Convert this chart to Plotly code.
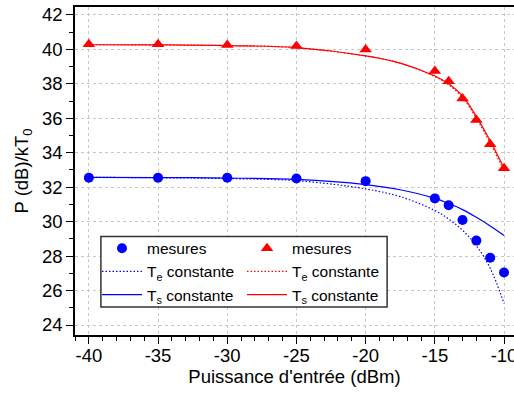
import plotly.graph_objects as go

# measured points
x_meas = [-40, -35, -30, -25, -20, -15, -14, -13, -12, -11, -10]
blue_meas = [32.55, 32.55, 32.55, 32.5, 32.35, 31.35, 30.95, 30.1, 28.9, 27.9, 27.05]
red_meas = [40.3, 40.3, 40.25, 40.2, 40.0, 38.75, 38.15, 37.15, 35.9, 34.5, 33.1]

# model curves
x_curve = [-40, -35, -30, -25, -20, -17.5, -15, -14, -13, -12, -11, -10]
blue_ts = [32.57, 32.56, 32.53, 32.45, 32.15, 31.85, 31.35, 31.05, 30.7, 30.25, 29.75, 29.2]
blue_te = [32.57, 32.55, 32.5, 32.38, 31.9, 31.45, 30.65, 30.15, 29.5, 28.6, 27.3, 25.25]
red_ts = [40.27, 40.26, 40.22, 40.1, 39.62, 39.2, 38.45, 38.0, 37.3, 36.1, 34.7, 33.1]
red_te = [40.27, 40.26, 40.22, 40.1, 39.62, 39.2, 38.42, 37.95, 37.2, 36.0, 34.55, 32.95]

x_ticks = [-40, -35, -30, -25, -20, -15, -10]
x_ticktext = ["-40", "-35", "-30", "-25", "-20", "-15", "-10"]
y_ticks = [24, 26, 28, 30, 32, 34, 36, 38, 40, 42]

BLUE = "#0000ff"
RED = "#ff0000"
FONT = "Liberation Sans, Arial, sans-serif"
DOT = "1.5px,2px"

fig = go.Figure()
fig.add_trace(go.Scatter(x=x_curve, y=blue_te, mode="lines", line=dict(color=BLUE, width=1.2, dash=DOT, shape="spline"),
                         name="T<sub>e</sub> constante", legend="legend"))
fig.add_trace(go.Scatter(x=x_curve, y=blue_ts, mode="lines", line=dict(color=BLUE, width=1.2, shape="spline"),
                         name="T<sub>s</sub> constante", legend="legend"))
fig.add_trace(go.Scatter(x=x_curve, y=red_te, mode="lines", line=dict(color=RED, width=1.2, dash=DOT, shape="spline"),
                         name="T<sub>e</sub> constante", legend="legend2"))
fig.add_trace(go.Scatter(x=x_curve, y=red_ts, mode="lines", line=dict(color=RED, width=1.2, shape="spline"),
                         name="T<sub>s</sub> constante", legend="legend2"))
fig.add_trace(go.Scatter(x=x_meas, y=blue_meas, mode="markers", marker=dict(color=BLUE, size=10, symbol="circle"),
                         name="mesures", legend="legend", legendrank=1))
fig.add_trace(go.Scatter(x=x_meas, y=red_meas, mode="markers", marker=dict(color=RED, size=11, symbol="triangle-up"),
                         name="mesures", legend="legend2", legendrank=1))

axis_common = dict(
    showline=True, linecolor="black", linewidth=1.5, mirror=True,
    ticks="outside", ticklen=7, tickwidth=1.2, tickcolor="black",
    showgrid=True, gridcolor="#c8c8c8", griddash="dot", gridwidth=1,
    zeroline=False, automargin=False, ticklabeloverflow="allow",
    tickfont=dict(family=FONT, size=18.5, color="black"),
)

fig.update_layout(
    width=514, height=399,
    margin=dict(l=75, r=0, t=7, b=64),
    plot_bgcolor="white", paper_bgcolor="white",
    font=dict(family=FONT, color="black"),
    xaxis=dict(range=[-41, -9.28], tickvals=x_ticks, ticktext=x_ticktext, ticklabelstandoff=-4,
               minor=dict(ticks="outside", ticklen=4, dtick=1, tick0=-40, tickcolor="black", showgrid=False),
               title=dict(text="Puissance d'entrée (dBm)", font=dict(family=FONT, size=18.5), standoff=3),
               **axis_common),
    yaxis=dict(range=[23.42, 42.46], tickvals=y_ticks,
               minor=dict(ticks="outside", ticklen=4, dtick=1, tick0=24, tickcolor="black", showgrid=False),
               title=dict(text="P (dB)/kT<sub>0</sub>", font=dict(family=FONT, size=18.5), standoff=8),
               **axis_common),
    legend=dict(x=(97 - 75) / 439, y=0.315, xanchor="left", yanchor="top", bgcolor="rgba(0,0,0,0)",
                font=dict(family=FONT, size=15.5), tracegroupgap=0, itemwidth=40,
                traceorder="normal"),
    legend2=dict(x=(242 - 75) / 439, y=0.315, xanchor="left", yanchor="top", bgcolor="rgba(0,0,0,0)",
                 font=dict(family=FONT, size=15.5), tracegroupgap=0, itemwidth=40,
                 traceorder="normal"),
    showlegend=True,
    shapes=[dict(type="rect", xref="paper", yref="paper", x0=0.059, x1=0.711, y0=0.085, y1=0.300,
                 line=dict(color="#333333", width=1.5), fillcolor="white", layer="above")],
)

fig.write_html("out.html", config={"displayModeBar": False},
               post_script="document.body.style.margin='0';document.body.style.overflow='hidden';")
